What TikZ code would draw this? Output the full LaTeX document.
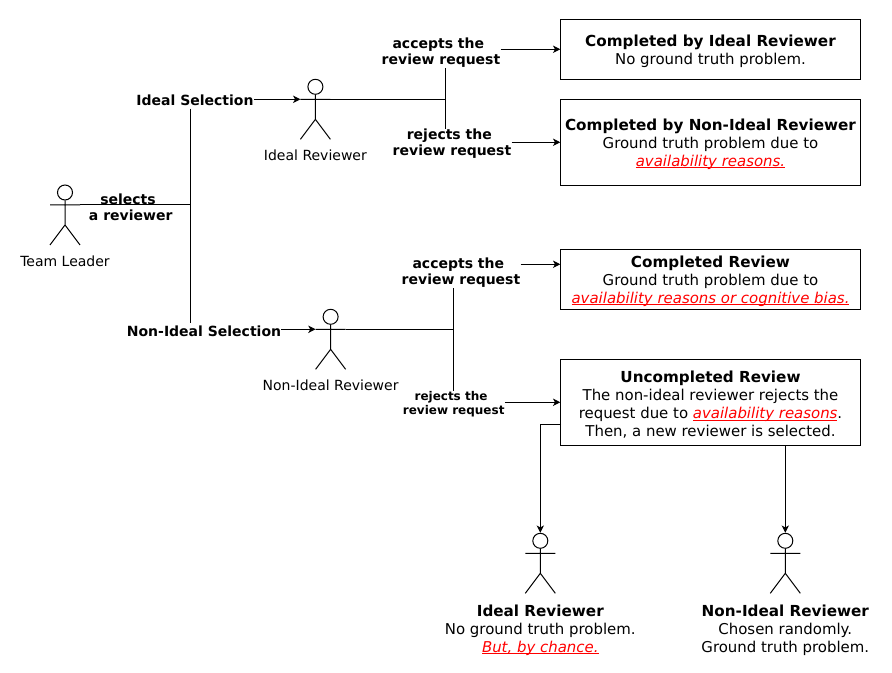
\documentclass[tikz,border=0pt]{standalone}
\usepackage{fontspec}
\setmainfont{DejaVu Sans}
\usetikzlibrary{arrows.meta}
\newsavebox{\redbox}
\newcommand{\redtext}[1]{\sbox{\redbox}{\color{red}\itshape #1}\textcolor{red}{\rlap{\rule[-1.3pt]{\wd\redbox}{0.55pt}}}\usebox{\redbox}}
\newcommand{\boxhead}[1]{\rule{0pt}{11pt}{\fontsize{11.4pt}{13.5pt}\selectfont\bfseries #1}}
\newcommand{\actor}[3]{\node[actorhead] (#1) at (#2,#3+7.5) {};
\coordinate (#1-l) at (#2-15,#3+20);\coordinate (#1-r) at (#2+15,#3+20);
\draw[thinline] (#1-l)--(#1-r) (#1.south)--(#2,#3+40) (#2-15,#3+60)--(#2,#3+40)--(#2+15,#3+60);}
\tikzset{
thinline/.style={line width=0.75pt,black},
arrowline/.style={thinline,-{Stealth[length=5.5pt,width=5.5pt,inset=1.5pt]}},
actorhead/.style={circle,draw,line width=0.75pt,minimum size=11.25pt,inner sep=0pt},
resultbox/.style={draw,line width=0.75pt,minimum width=224.5pt,inner sep=0pt,align=center,font=\fontsize{11.2pt}{13.5pt}\selectfont},
flowlabel/.style={inner sep=0pt,align=center,font=\fontsize{10.5pt}{12pt}\selectfont\bfseries},
smalllabel/.style={inner sep=0pt,align=center,font=\fontsize{9pt}{10.5pt}\selectfont\bfseries},
actorlabel/.style={inner sep=0pt,align=center,font=\fontsize{10.5pt}{12pt}\selectfont},
endlabel/.style={inner sep=0pt,align=center,font=\fontsize{11.2pt}{13.5pt}\selectfont}
}
\begin{document}
\begin{tikzpicture}[x=0.75pt,y=-0.75pt]
\useasboundingbox (0,0) rectangle (892,673);
\node[resultbox,minimum height=45pt] (boxA) at (710.5,49.3){\boxhead{Completed by Ideal Reviewer}\\No ground truth problem.};
\node[resultbox,minimum height=64.5pt] (boxB) at (710.5,142.3){\boxhead{Completed by Non-Ideal Reviewer}\\Ground truth problem due to\\\redtext{availability reasons.}};
\node[resultbox,minimum height=45pt] (boxC) at (710.5,279.3){\boxhead{Completed Review}\\Ground truth problem due to\\\redtext{availability reasons or cognitive bias.}};
\node[resultbox,minimum height=64.5pt] (boxD) at (710.5,402.3){\rule{0pt}{12.5pt}\boxhead{Uncompleted Review}\\The non-ideal reviewer rejects the\\request due to \redtext{availability reasons}.\\Then, a new reviewer is selected.};
% actors
\actor{leader}{65}{185}
\actor{idealrev}{315.4}{79.3}
\actor{nonidealrev}{330.6}{309.3}
\actor{idealend}{540.3}{533.3}
\actor{nonidealend}{785.3}{533.3}
\node[actorlabel] (leaderlbl) at (65,261){Team Leader};
\node[actorlabel] (ideallbl) at (315.4,155){Ideal Reviewer};
\node[actorlabel] (nonideallbl) at (330.6,385){Non-Ideal Reviewer};
\node[endlabel] (idealendlbl) at (540.3,628.5){\boxhead{Ideal Reviewer}\\No ground truth problem.\\\redtext{But, by chance.}};
\node[endlabel] (nonidealendlbl) at (785.3,628.5){\boxhead{Non-Ideal Reviewer}\\Chosen randomly.\\Ground truth problem.};
% labels
\node[flowlabel] (selects) at (130.7,207){selects\hspace*{4pt}\\a reviewer};
\node[flowlabel,outer ysep=2pt] (selA) at (195,100.5){Ideal Selection};
\node[flowlabel,outer ysep=2pt] (selB) at (204,331){Non-Ideal Selection};
\node[flowlabel] (accA) at (441,53){accepts the\hspace*{4pt}\\review request};
\node[flowlabel] (rejA) at (452,144){rejects the\hspace*{4pt}\\review request};
\node[flowlabel] (accB) at (461,273){accepts the\hspace*{4pt}\\review request};
\node[smalllabel] (rejB) at (453.7,404){rejects the\hspace*{4pt}\\review request};
% junctions
\coordinate (jleader) at (190.4,205);
\coordinate (jideal) at (445.2,99.3);
\coordinate (jnonideal) at (453.2,329.3);
\coordinate (boxDout) at (561,424.3);
% connectors
\draw[thinline] (leader-r)--(jleader);
\draw[thinline] (selA.south -| jleader)--(selB.north -| jleader);
\draw[arrowline] (selA.east |- idealrev-l)--(idealrev-l);
\draw[arrowline] (selB.east |- nonidealrev-l)--(nonidealrev-l);
\draw[thinline] (idealrev-r)--(jideal);
\draw[thinline] (nonidealrev-r)--(jnonideal);
\draw[thinline] (accA.south -| jideal)--(rejA.north -| jideal);
\draw[thinline] (accB.south -| jnonideal)--(rejB.north -| jnonideal);
\draw[arrowline] (accA.east |- boxA.west)--(boxA.west);
\draw[arrowline] (rejA.east |- boxB.west)--(boxB.west);
\draw[arrowline] (accB.east |- 0,264.3)--(boxC.west |- 0,264.3);
\draw[arrowline] (rejB.east |- boxD.west)--(boxD.west);
\draw[arrowline] (boxDout) -| (idealend.north);
\draw[arrowline] (boxD.south -| nonidealend)--(nonidealend.north);
\end{tikzpicture}
\end{document}
